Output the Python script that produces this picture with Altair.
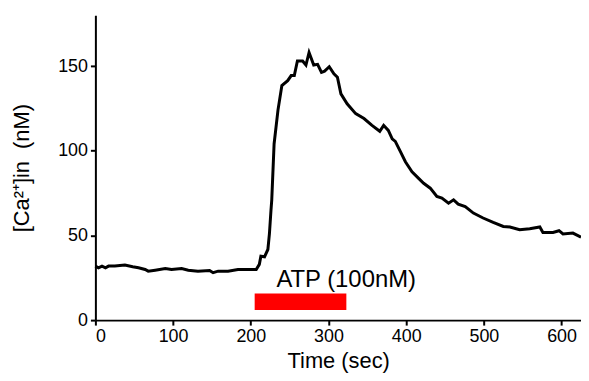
import altair as alt
import pandas as pd

time_sec = [0, 4, 8.5, 13, 17, 25, 38, 48, 55.5, 64, 68, 77, 90, 98, 111, 119.5, 132, 147,
            151.5, 158, 170.7, 183.5, 195, 207, 211, 213, 217.7, 222, 224, 226, 227, 230,
            235, 240, 247.5, 252, 256, 260, 266.7, 271, 275, 281, 286, 291, 295, 301, 307,
            311.5, 316, 324, 335, 345.7, 356, 366, 371, 377, 382, 386, 392.6, 399, 407.5,
            416, 422.5, 431, 439.5, 446, 454.5, 461, 467, 476, 486.5, 499, 512, 525, 533.5,
            546, 559, 572, 576, 589, 596.7, 601.8, 614.6, 625]
ca_nM = [31.9, 30.9, 31.9, 30.9, 31.9, 32, 32.5, 31.5, 30.9, 29.9, 28.9, 29.5, 30.5, 29.9,
         30.5, 29.5, 28.9, 29.3, 28, 28.9, 28.9, 29.9, 29.9, 29.9, 32.9, 37.7, 37.4, 41.7,
         51, 65, 71, 104, 124, 138.5, 141.4, 144.4, 144.4, 153, 153, 150.6, 158, 150.6, 151,
         146.3, 147, 149.6, 145.4, 143.4, 133.6, 127.7, 121.9, 119, 115, 111.5, 115, 112,
         107, 105.5, 99.5, 93.5, 87.6, 83.7, 80.8, 77.9, 73, 72, 69, 71, 68.5, 67, 63.2,
         60.3, 57.7, 55.3, 55, 53.4, 54, 55, 51.8, 51.8, 52.8, 50.9, 51.4, 49]

bar_start = [205]
bar_end = [323]
bar_low = [6]
bar_high = [15.7]
label_text = ["ATP (100nM)"]
label_t = [233]
label_v = [19.4]

x_ticks = [0, 100, 200, 300, 400, 500, 600]
y_ticks = [0, 50, 100, 150]

FONT = "Liberation Sans"

df = pd.DataFrame({"t": time_sec, "v": ca_nM})
bar_df = pd.DataFrame({"t1": bar_start, "t2": bar_end, "v1": bar_low, "v2": bar_high})
lab_df = pd.DataFrame({"t": label_t, "v": label_v, "txt": label_text})

xscale = alt.Scale(domain=[0, 625], nice=False, zero=False)
yscale = alt.Scale(domain=[0, 180], nice=False)

xaxis = alt.Axis(values=x_ticks, title="Time (sec)", grid=False, labelFont=FONT,
                 labelFontSize=18, labelColor="black", titleFont=FONT, titleFontSize=22,
                 titleFontWeight="normal", titleColor="black", domainColor="black",
                 domainWidth=2, tickColor="black", tickWidth=2, tickSize=5,
                 labelPadding=3, titlePadding=5)
yaxis = alt.Axis(values=y_ticks, title="[Ca²⁺]in\u00a0\u00a0(nM)", grid=False, labelFont=FONT,
                 labelFontSize=18, labelColor="black", titleFont=FONT, titleFontSize=22,
                 titleFontWeight="normal", titleColor="black", domainColor="black",
                 domainWidth=2, tickColor="black", tickWidth=2, tickSize=5,
                 labelPadding=3, titlePadding=24)

line = alt.Chart(df).mark_line(color="black", strokeWidth=3).encode(
    x=alt.X("t:Q", scale=xscale, axis=xaxis),
    y=alt.Y("v:Q", scale=yscale, axis=yaxis),
)

bar = alt.Chart(bar_df).mark_rect(color="#ff0000").encode(
    x=alt.X("t1:Q", scale=xscale), x2="t2:Q",
    y=alt.Y("v1:Q", scale=yscale), y2="v2:Q",
)

label = alt.Chart(lab_df).mark_text(font=FONT, fontSize=24, align="left",
                                    baseline="alphabetic", color="black").encode(
    x=alt.X("t:Q", scale=xscale), y=alt.Y("v:Q", scale=yscale), text="txt:N"
)

chart = alt.layer(bar, line, label).properties(
    width=489, height=307,
    background="white",
    autosize=alt.AutoSizeParams(type="none"),
    padding={"left": 88, "top": 6, "right": 0, "bottom": 60},
).configure_view(stroke=None)

chart.save("out.html", embed_options={"renderer": "svg", "actions": False})
